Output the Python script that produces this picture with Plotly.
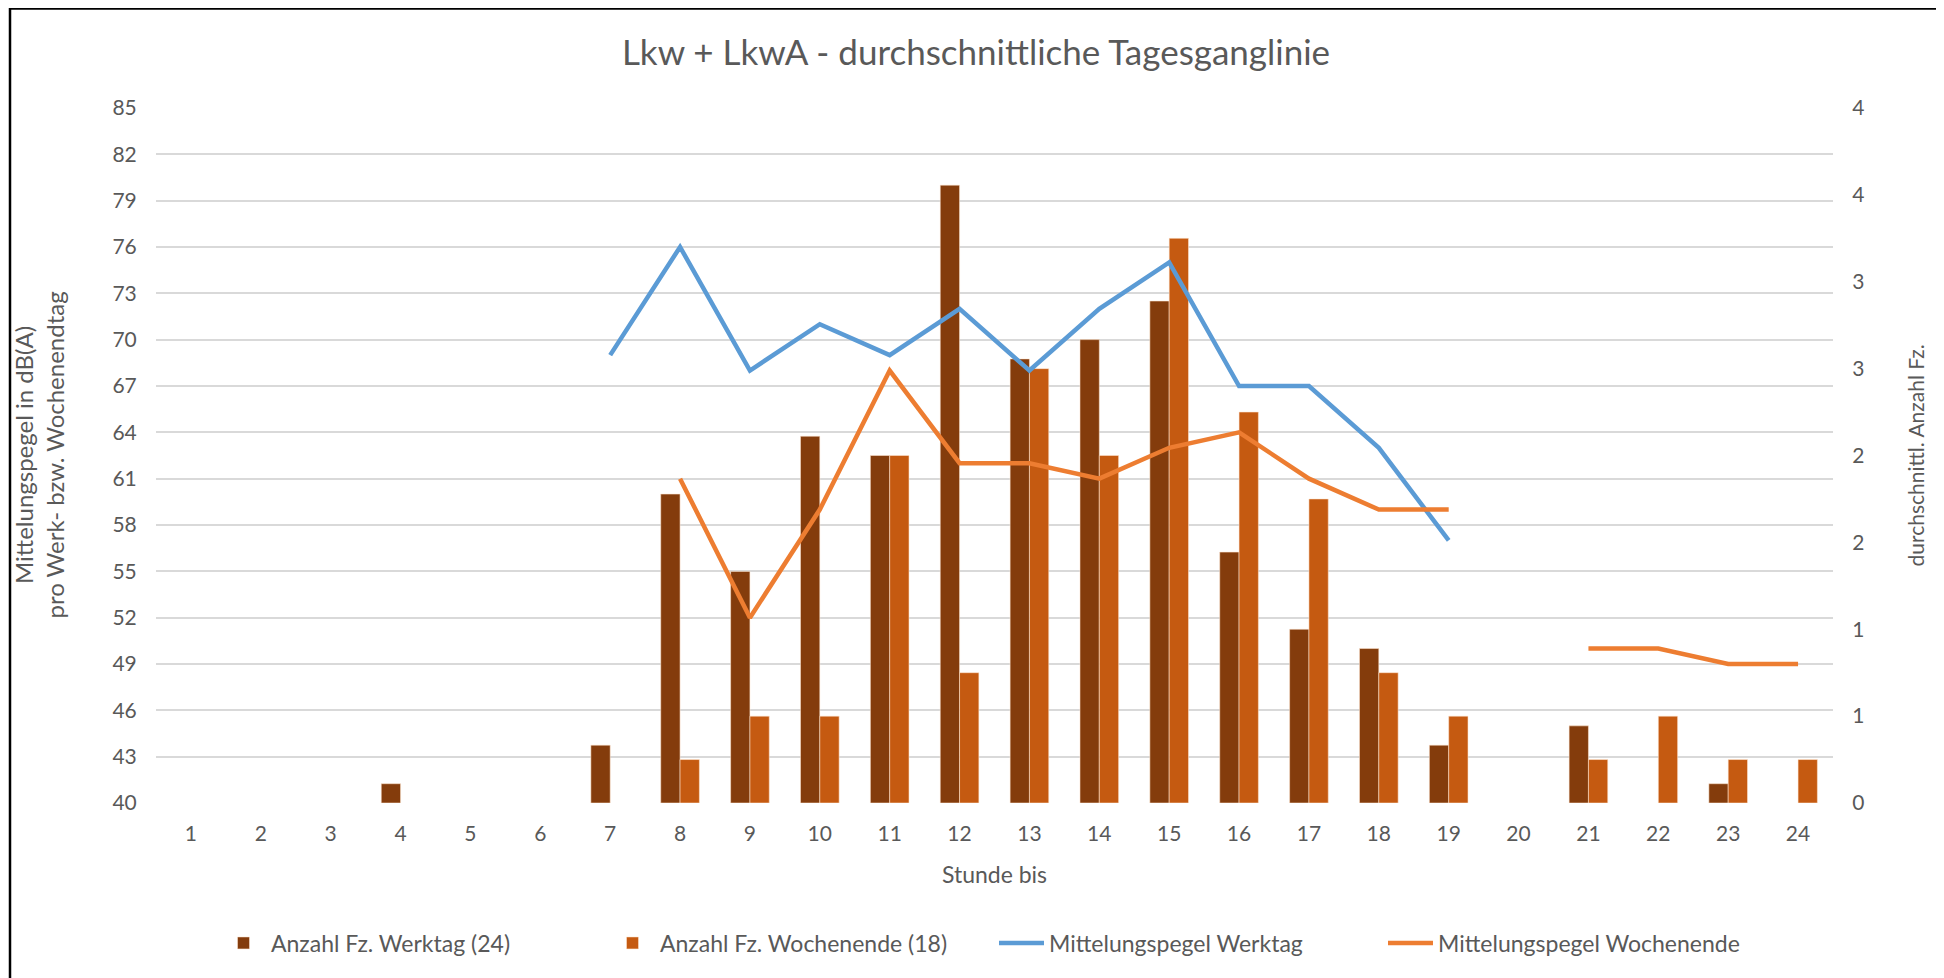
import plotly.graph_objects as go

hours = [str(h) for h in range(1, 25)]

# average vehicle counts (right axis)
anzahl_werktag = [None, None, None, 0.111, None, None, 0.333, 1.778, 1.333, 2.111, 2.0, 3.556,
                  2.556, 2.667, 2.889, 1.444, 1.0, 0.889, 0.333, None, 0.444, None, 0.111, None]
anzahl_wochenende = [None, None, None, None, None, None, None, 0.25, 0.5, 0.5, 2.0, 0.75,
                     2.5, 2.0, 3.25, 2.25, 1.75, 0.75, 0.5, None, 0.25, 0.5, 0.25, 0.25]

# mean levels in dB(A) (left axis)
pegel_werktag = [None, None, None, None, None, None, 69, 76, 68, 71, 69, 72,
                 68, 72, 75, 67, 67, 63, 57, None, None, None, None, None]
pegel_wochenende = [None, None, None, None, None, None, None, 61, 52, 59, 68, 62,
                    62, 61, 63, 64, 61, 59, 59, None, 50, 50, 49, 49]

left_ticks = list(range(40, 86, 3))
right_tickvals = [0, 0.5, 1, 1.5, 2, 2.5, 3, 3.5, 4]
right_ticktext = ["0", "1", "1", "2", "2", "3", "3", "4", "4"]

FONT = "Lato"
TXT = "#595959"

fig = go.Figure()
fig.add_trace(go.Bar(x=hours, y=anzahl_werktag, name="Anzahl Fz. Werktag (24)",
                     marker=dict(color="#843C0C", line=dict(color="rgba(255,230,210,0.7)", width=0.8)),
                     yaxis="y"))
fig.add_trace(go.Bar(x=hours, y=anzahl_wochenende, name="Anzahl Fz. Wochenende (18)",
                     marker=dict(color="#C55A11", line=dict(color="rgba(255,230,210,0.7)", width=0.8)),
                     yaxis="y"))
fig.add_trace(go.Scatter(x=hours, y=pegel_werktag, name="Mittelungspegel Werktag", mode="lines",
                         line=dict(color="#5B9BD5", width=4.5), connectgaps=False, yaxis="y2"))
fig.add_trace(go.Scatter(x=hours, y=pegel_wochenende, name="Mittelungspegel Wochenende", mode="lines",
                         line=dict(color="#ED7D31", width=4.5), connectgaps=False, yaxis="y2"))

fig.update_layout(
    width=1936, height=970,
    paper_bgcolor="white", plot_bgcolor="white",
    margin=dict(l=148, r=111, t=100, b=175),
    font=dict(family=FONT, color=TXT, size=21),
    title=dict(text="Lkw + LkwA - durchschnittliche Tagesganglinie", x=0.5, xanchor="center",
               y=1 - 45 / 970, yanchor="middle", xref="container", yref="container",
               font=dict(family=FONT, size=35, color=TXT)),
    barmode="group", bargap=0.447, bargroupgap=0,
    xaxis=dict(type="category", showgrid=False, showline=False, zeroline=False,
               ticks="outside", ticklen=12, tickcolor="rgba(0,0,0,0)",
               tickfont=dict(size=21, color=TXT),
               title=dict(text="Stunde bis", font=dict(size=23, color=TXT), standoff=22)),
    yaxis=dict(side="right", range=[0, 4], tickvals=right_tickvals, ticktext=right_ticktext,
               showgrid=False, zeroline=False, showline=False,
               ticks="outside", ticklen=14, tickcolor="rgba(0,0,0,0)",
               tickfont=dict(size=21, color=TXT),
               minor=dict(tick0=0, dtick=4 / 15, showgrid=True, gridcolor="#D9D9D9", gridwidth=1.5)),
    yaxis2=dict(side="left", overlaying="y", range=[40, 85], tickvals=left_ticks,
                showgrid=False, zeroline=False, showline=False,
                ticks="outside", ticklen=14, tickcolor="rgba(0,0,0,0)",
                tickfont=dict(size=21, color=TXT)),
    legend=dict(orientation="h", x=60 / 1677, xanchor="left", y=(795 - 935) / 695,
                yanchor="middle", font=dict(size=23, color=TXT), itemwidth=45,
                entrywidth=329, entrywidthmode="pixels", traceorder="normal",
                bgcolor="rgba(0,0,0,0)"),
    showlegend=True,
)

# axis titles
fig.add_annotation(text="Mittelungspegel in dB(A)<br>pro Werk- bzw. Wochenendtag",
                   xref="paper", yref="paper", x=(30 - 148) / 1677, y=0.5, textangle=-90,
                   showarrow=False, font=dict(size=24, color=TXT), xanchor="center", yanchor="middle")
fig.add_annotation(text="durchschnittl. Anzahl Fz.",
                   xref="paper", yref="paper", x=(1907 - 148) / 1677, y=0.5, textangle=-90,
                   showarrow=False, font=dict(size=21, color=TXT), xanchor="center", yanchor="middle")

# outer frame
fig.add_shape(type="rect", xref="paper", yref="paper",
              x0=(2 - 148) / 1677, x1=(1933 - 148) / 1677,
              y0=(795 - 985) / 695, y1=(795 - 0.5) / 695,
              line=dict(color="#000000", width=2.5), fillcolor="rgba(0,0,0,0)", layer="above")

fig.write_html("out.html")
